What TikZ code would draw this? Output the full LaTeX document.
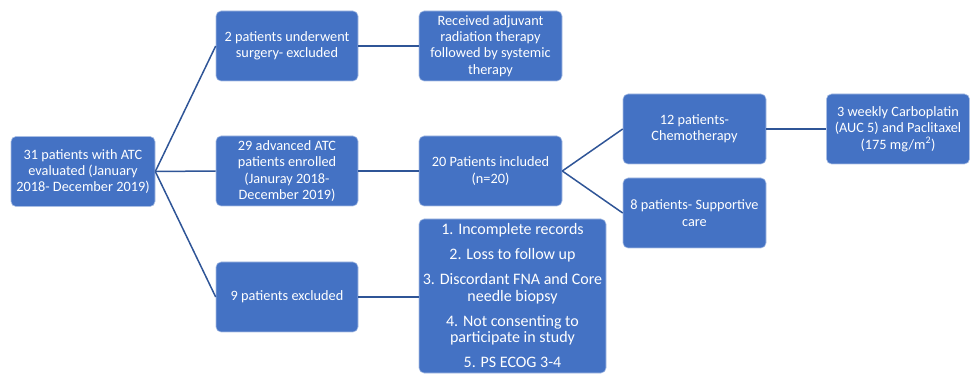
\documentclass[tikz,border=0pt]{standalone}
\usepackage{fontspec}
\setmainfont{Carlito}
\definecolor{boxblue}{HTML}{4472C4}
\definecolor{edgeblue}{HTML}{2F5597}
\definecolor{rimblue}{HTML}{A9BEE4}
\tikzset{
  patbox/.style={draw=rimblue, line width=0.6pt, fill=boxblue, rounded corners=5pt,
    text=white, align=center, inner sep=0pt, minimum width=142pt, minimum height=70pt,
    font=\fontsize{14.3}{16.3}\selectfont},
  conn/.style={draw=edgeblue, line width=1.5pt}
}
\begin{document}
\begin{tikzpicture}[x=1pt,y=-1pt]
  \useasboundingbox (0,0) rectangle (970,374);
  % 左端: 評価した患者
  \node[patbox, minimum width=144pt] (eval) at (83,171.5) {31 patients with ATC\\evaluated (January\\2018- December 2019)};
  % 2列目
  \node[patbox] (surg) at (287,46) {2 patients underwent\\surgery- excluded};
  \node[patbox] (enrol) at (287,171) {29 advanced ATC\\patients enrolled\\(Januray 2018-\\December 2019)};
  \node[patbox] (excl) at (287,297) {9 patients excluded};
  % 3列目
  \node[patbox, minimum width=143pt] (adj) at (490.5,46) {Received adjuvant\\radiation therapy\\followed by systemic\\therapy};
  \node[patbox, minimum width=143pt] (incl) at (490.5,171) {20 Patients included\\(n=20)};
  \node[patbox, minimum width=187pt, minimum height=154pt, font=\fontsize{16}{16.5}\selectfont] (crit) at (512.5,296)
    {1. Incomplete records\\[8.5pt]2. Loss to follow up\\[8.5pt]3. Discordant FNA and Core\\needle biopsy\\[8.5pt]4. Not consenting to\\participate in study\\[8.5pt]5. PS ECOG 3-4};
  % 4列目以降
  \node[patbox, minimum width=143pt] (chemo) at (694.5,129) {12 patients-\\Chemotherapy};
  \node[patbox, minimum width=143pt] (supp) at (694.5,213) {8 patients- Supportive\\care};
  \node[patbox, minimum width=143pt] (regimen) at (898,129) {3 weekly Carboplatin\\(AUC 5) and Paclitaxel\\(175 mg/m\textsuperscript{2})};
  % 接続線
  \draw[conn] (eval.east) -- (surg.west);
  \draw[conn] (eval.east) -- (enrol.west);
  \draw[conn] (eval.east) -- (excl.west);
  \draw[conn] (surg) -- (adj);
  \draw[conn] (enrol) -- (incl);
  \draw[conn] (excl.east) -- (excl.east -| crit.west);
  \draw[conn] (incl.east) -- (chemo.west);
  \draw[conn] (incl.east) -- (supp.west);
  \draw[conn] (chemo) -- (regimen);
\end{tikzpicture}
\end{document}
